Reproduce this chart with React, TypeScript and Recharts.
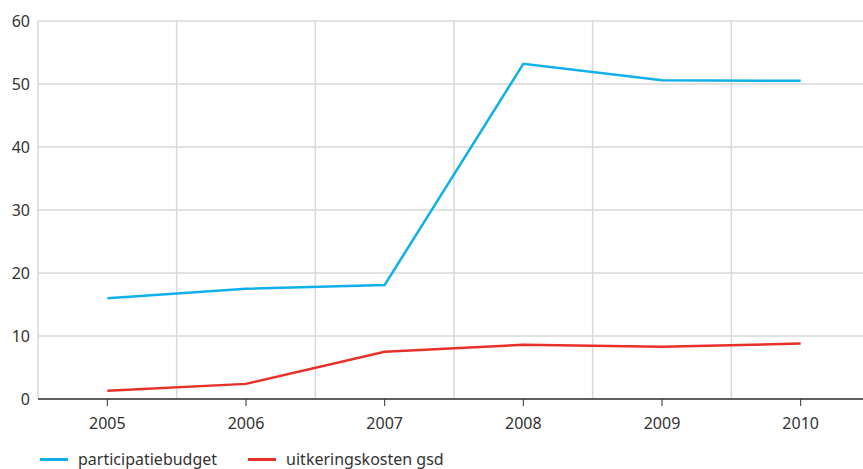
import React from 'react'
import { CartesianGrid, Legend, Line, LineChart, XAxis, YAxis } from 'recharts'

const years = [2005, 2006, 2007, 2008, 2009, 2010]
const participatiebudget = [16.0, 17.5, 18.1, 53.2, 50.6, 50.5]
const uitkeringskosten = [1.3, 2.4, 7.5, 8.6, 8.3, 8.8]
const yTicks = [0, 10, 20, 30, 40, 50, 60]
const gridYears = [2004.5, 2005.5, 2006.5, 2007.5, 2008.5, 2009.5]

const data = years.map((year, i) => ({
  year,
  participatiebudget: participatiebudget[i],
  uitkeringskosten: uitkeringskosten[i]
}))

const FONT = '"Noto Sans", "Open Sans", sans-serif'

function LegendContent (props: any) {
  const items = props.payload || []
  return (
    <div style={{ height: 32, display: 'flex', alignItems: 'flex-end', paddingLeft: 40, boxSizing: 'border-box', fontFamily: FONT, fontSize: 16, color: '#333' }}>
      {items.map((it: any, i: number) => (
        <div key={i} style={{ display: 'flex', alignItems: 'center', marginRight: 31, height: 20, lineHeight: '20px' }}>
          <span style={{ display: 'inline-block', width: 28, height: 3, background: it.color, marginRight: 10 }} />
          <span>{it.value}</span>
        </div>
      ))}
    </div>
  )
}

export default function App () {
  // the plot runs past the right edge of the picture, as in the original
  return (
    <div style={{ position: 'absolute', top: 0, left: 0, width: 863, height: 469, overflow: 'hidden' }}>
      <LineChart width={870} height={469} data={data} margin={{ top: 21, right: 0, left: 0, bottom: 0 }}>
        <CartesianGrid stroke="#d9d9d9" strokeWidth={1.5} verticalValues={gridYears} />
        <XAxis
          dataKey="year"
          type="number"
          domain={[2004.5, 2010.5]}
          ticks={years}
          height={38}
          tickSize={7}
          tickMargin={12}
          stroke="#333"
          axisLine={{ stroke: '#333', strokeWidth: 1.5 }}
          tick={{ fill: '#333', fontSize: 16, fontFamily: FONT }}
        />
        <YAxis
          domain={[0, 60]}
          ticks={yTicks}
          width={38}
          axisLine={false}
          tickLine={false}
          tick={{ fill: '#333', fontSize: 16, fontFamily: FONT }}
        />
        <Legend verticalAlign="bottom" align="left" content={<LegendContent />} />
        <Line
          name="participatiebudget"
          dataKey="participatiebudget"
          stroke="#0fb0ec"
          strokeWidth={2.5}
          dot={false}
          type="linear"
          isAnimationActive={false}
        />
        <Line
          name="uitkeringskosten gsd"
          dataKey="uitkeringskosten"
          stroke="#e8302a"
          strokeWidth={2.5}
          dot={false}
          type="linear"
          isAnimationActive={false}
        />
      </LineChart>
    </div>
  )
}
